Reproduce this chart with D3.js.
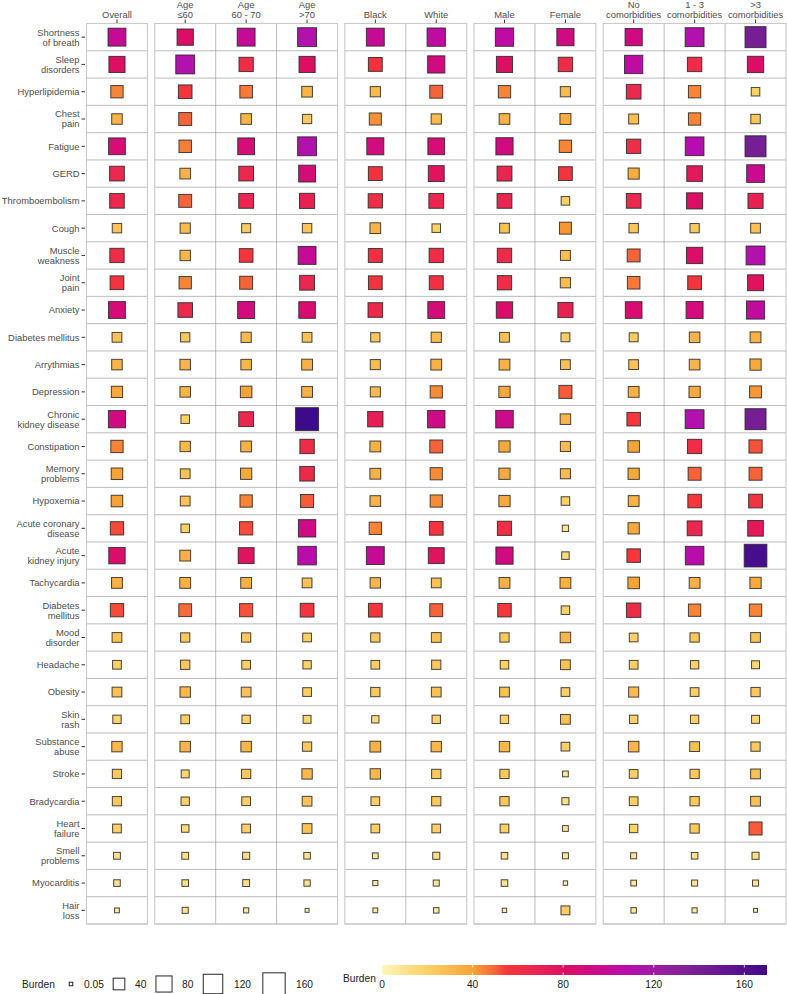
<!DOCTYPE html>
<html><head><meta charset="utf-8">
<script src="https://cdn.jsdelivr.net/npm/d3@7"></script>
<style>body{margin:0;background:#fff}svg{display:block;font-family:"Liberation Sans",Arial,sans-serif}</style>
</head><body><svg id="c" width="787" height="994"></svg>
<script>
const symptoms = ["Shortness\nof breath","Sleep\ndisorders","Hyperlipidemia","Chest\npain","Fatigue","GERD","Thromboembolism","Cough","Muscle\nweakness","Joint\npain","Anxiety","Diabetes mellitus","Arrythmias","Depression","Chronic\nkidney disease","Constipation","Memory\nproblems","Hypoxemia","Acute coronary\ndisease","Acute\nkidney injury","Tachycardia","Diabetes\nmellitus","Mood\ndisorder","Headache","Obesity","Skin\nrash","Substance\nabuse","Stroke","Bradycardia","Heart\nfailure","Smell\nproblems","Myocarditis","Hair\nloss"];
const groupLabels = ["Overall","Age\n≤60","Age\n60 - 70","Age\n>70","Black","White","Male","Female","No\ncomorbidities","1 - 3\ncomorbidities",">3\ncomorbidities"];
const panelOf = [0,1,1,1,2,2,3,3,4,4,4];
const overall = [100,80,45,32,87,66,65,25,62,57,88,27,32,37,92,45,39,39,53,83,34,53,27,21,27,19,31,24,24,21,12,11,5];
const age60   = [82,112,56,50,46,33,50,30,31,45,65,24,32,32,20,31,27,27,20,34,34,49,24,24,31,21,32,17,19,15,12,11,9];
const age6070 = [100,62,47,33,87,66,67,23,56,50,90,30,32,39,67,34,37,45,53,78,34,52,24,21,27,19,32,24,21,21,13,12,6];
const age70   = [112,80,33,24,112,88,70,25,100,67,85,27,34,34,170,63,65,51,94,108,27,57,21,19,21,17,24,31,27,27,11,10,3];
const black   = [100,58,30,43,90,58,62,33,59,57,65,24,29,29,72,34,34,33,45,100,31,57,24,21,24,14,34,31,21,21,8,6,5];
const white   = [105,92,50,30,87,78,67,20,62,59,88,30,34,44,94,50,44,44,57,78,27,50,27,24,27,19,31,24,24,21,13,9,7];
const male    = [105,80,45,33,92,68,67,27,63,62,83,27,34,37,96,37,37,37,61,92,34,55,24,20,27,19,31,24,24,21,11,11,4];
const female  = [92,63,30,35,45,57,20,42,28,30,70,22,27,51,32,29,29,20,10,15,34,20,32,27,21,27,21,8,13,8,9,4,22];
const noComorb= [92,105,66,28,62,36,66,25,50,47,86,22,27,34,55,39,37,34,37,55,39,63,21,21,29,19,32,21,21,19,9,8,7];
const comorb13= [112,63,45,45,110,75,80,24,82,57,90,32,33,37,112,62,50,55,67,108,34,45,24,19,21,19,27,24,24,24,11,9,6];
const comorb3 = [140,82,20,25,140,98,70,27,112,78,103,34,37,42,140,52,50,57,75,165,37,45,27,17,24,17,24,27,27,51,13,9,3];
const series = [overall,age60,age6070,age70,black,white,male,female,noComorb,comorb13,comorb3];
const sizeBreaks = [0.05,40,80,120,160];
const colorTicks = [0,40,80,120,160];

const svg = d3.select("#c");
const axisCol = "#4d4d4d";
const axisFont = 9.4;
const color = d3.scaleLinear()
  .domain([0,20,40,55,80,110,135,170])
  .range(["#FFF6B8","#FBD166","#F7A234","#F5363A","#DD0F62","#B60DB0","#7F2295","#3D0A8A"])
  .interpolate(d3.interpolateLab).clamp(true);
const size = d3.scaleSqrt().domain([0,170]).range([1,23]);

const rowKeys = symptoms.map((d,i)=>i);
const y = d3.scaleBand().domain(rowKeys).range([23.5,924]);
const plotL = 86.5, plotR = 786, gap = 7.3;
const nPanels = 5;
const counts = d3.range(nPanels).map(p=>panelOf.filter(q=>q===p).length);
const colW = (plotR-plotL-gap*(nPanels-1))/panelOf.length;
let cx = plotL;
const panels = counts.map((n,p)=>{
  const x0 = cx, x1 = cx + n*colW; cx = x1 + gap;
  const cols = panelOf.map((q,i)=>q===p?i:-1).filter(i=>i>=0);
  return {p, x0, x1, cols, scale: d3.scaleBand().domain(cols).range([x0,x1])};
});
const colX = i => panels[panelOf[i]].scale;

panels.forEach(P=>{
  const g = svg.append("g");
  g.append("rect").attr("x",P.x0).attr("y",y.range()[0]).attr("width",P.x1-P.x0).attr("height",y.range()[1]-y.range()[0])
    .attr("fill","#fff");
  const bounds = rowKeys.map(k=>y(k)).concat([y.range()[1]]);
  g.selectAll("line.h").data(bounds).join("line").attr("class","h")
    .attr("x1",P.x0).attr("x2",P.x1).attr("y1",d=>d).attr("y2",d=>d)
    .attr("stroke","#8f8f8f").attr("stroke-width",0.6);
  const vb = P.cols.slice(1).map(c=>P.scale(c));
  g.selectAll("line.v").data(vb).join("line").attr("class","v")
    .attr("x1",d=>d).attr("x2",d=>d).attr("y1",y.range()[0]).attr("y2",y.range()[1])
    .attr("stroke","#8f8f8f").attr("stroke-width",0.6);
  g.append("rect").attr("x",P.x0).attr("y",y.range()[0]).attr("width",P.x1-P.x0).attr("height",y.range()[1]-y.range()[0])
    .attr("fill","none").attr("stroke","#c9c9c9").attr("stroke-width",1.1);
});

const cells = [];
series.forEach((arr,ci)=>arr.forEach((v,ri)=>cells.push({ci,ri,v})));
svg.append("g").selectAll("rect").data(cells).join("rect")
  .attr("x",d=>colX(d.ci)(d.ci)+colX(d.ci).bandwidth()/2 - Math.max(3,size(d.v))/2)
  .attr("y",d=>y(d.ri)+y.bandwidth()/2 - Math.max(3,size(d.v))/2)
  .attr("width",d=>Math.max(3,size(d.v))).attr("height",d=>Math.max(3,size(d.v)))
  .attr("fill",d=>color(d.v)).attr("stroke","#262626").attr("stroke-opacity",0.85).attr("stroke-width",1);

const ya = svg.append("g");
rowKeys.forEach(k=>{
  const cy = y(k)+y.bandwidth()/2;
  ya.append("line").attr("x1",plotL-5).attr("x2",plotL-1.5).attr("y1",cy).attr("y2",cy).attr("stroke","#333").attr("stroke-width",1);
  const lines = symptoms[k].split("\n");
  const t = ya.append("text").attr("text-anchor","end").attr("font-size",axisFont).attr("fill",axisCol);
  lines.forEach((L,j)=>{
    t.append("tspan").attr("x",plotL-7).attr("y",cy+3.4+(j-(lines.length-1)/2)*10).text(L);
  });
});
const xa = svg.append("g");
groupLabels.forEach((lab,i)=>{
  const sc = colX(i); const x = sc(i)+sc.bandwidth()/2;
  xa.append("line").attr("x1",x).attr("x2",x).attr("y1",y.range()[0]-4).attr("y2",y.range()[0]-0.5).attr("stroke","#333").attr("stroke-width",1);
  const lines = lab.split("\n");
  const t = xa.append("text").attr("text-anchor","middle").attr("font-size",axisFont).attr("fill",axisCol);
  lines.forEach((L,j)=>{
    t.append("tspan").attr("x",x).attr("y",17.5-(lines.length-1-j)*10).text(L);
  });
});

const lg = svg.append("g").attr("font-size",10.2).attr("fill","#1a1a1a");
lg.append("text").attr("x",22).attr("y",988).text("Burden");
const keyX = [71,119,164,213,274], labX = [84,135,182,234,296];
sizeBreaks.forEach((b,i)=>{
  const s = Math.max(3.5,size(b));
  lg.append("rect").attr("x",keyX[i]-s/2).attr("y",984-s/2).attr("width",s).attr("height",s)
    .attr("fill","none").attr("stroke","#262626").attr("stroke-width",1);
  lg.append("text").attr("x",labX[i]).attr("y",988).text(b);
});
const cbX = d3.scaleLinear().domain([0,170]).range([382,767]);
const defs = svg.append("defs");
const grad = defs.append("linearGradient").attr("id","gr");
d3.range(0,171,5).forEach(v=>grad.append("stop").attr("offset",(v/170*100)+"%").attr("stop-color",color(v)));
const cg = svg.append("g").attr("font-size",10.2).attr("fill","#1a1a1a");
cg.append("rect").attr("x",cbX(0)).attr("y",965).attr("width",cbX(170)-cbX(0)).attr("height",10).attr("fill","url(#gr)");
colorTicks.forEach(t=>{
  cg.append("line").attr("x1",cbX(t)).attr("x2",cbX(t)).attr("y1",965).attr("y2",967.5).attr("stroke","#fff").attr("stroke-width",0.8);
  cg.append("line").attr("x1",cbX(t)).attr("x2",cbX(t)).attr("y1",972.5).attr("y2",975).attr("stroke","#fff").attr("stroke-width",0.8);
  cg.append("text").attr("x",cbX(t)).attr("y",988).attr("text-anchor","middle").text(t);
});
cg.append("text").attr("x",343).attr("y",982).text("Burden");
</script></body></html>
